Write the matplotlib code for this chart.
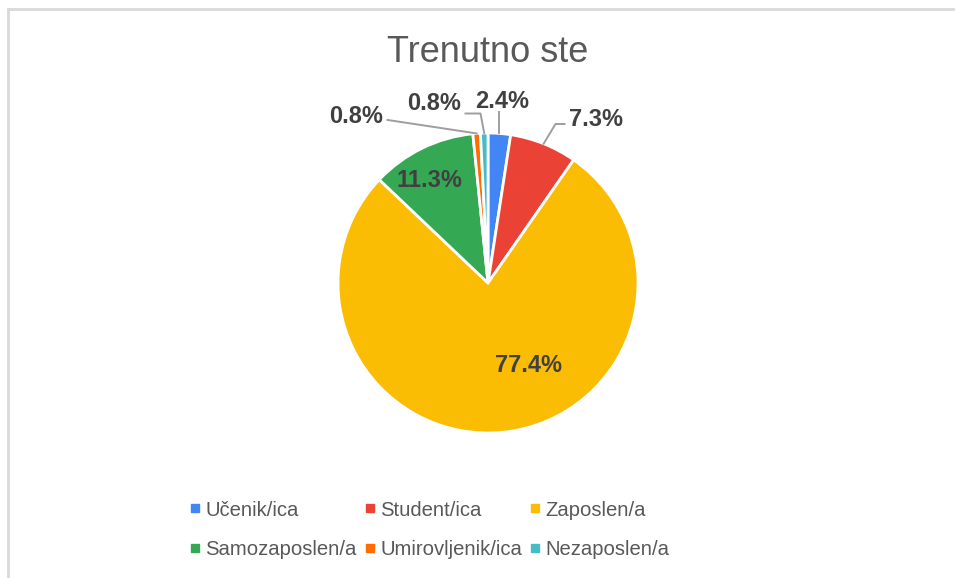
import numpy as np
import matplotlib.pyplot as plt
from matplotlib.lines import Line2D

categories = ['Učenik/ica', 'Student/ica', 'Zaposlen/a',
              'Samozaposlen/a', 'Umirovljenik/ica', 'Nezaposlen/a']
counts = [3, 9, 96, 14, 1, 1]
colors = ['#4285F4', '#EA4335', '#FBBC04', '#34A853', '#FF6D01', '#46BDC6']
title = 'Trenutno ste'

plt.rcParams['font.family'] = ['Liberation Sans', 'DejaVu Sans']

W, H = 955, 578
fig = plt.figure(figsize=(W / 100, H / 100), dpi=100)

# pie placed in pixel terms: centre (488, 283), radius 150
cx, cy, r = 488, 283, 150
ax = fig.add_axes([(cx - r) / W, (H - cy - r) / H, 2 * r / W, 2 * r / H])
wedges, _ = ax.pie(counts, colors=colors, startangle=90, counterclock=False,
                   radius=1, wedgeprops=dict(edgecolor='white', linewidth=2))
ax.set_xlim(-1, 1)
ax.set_ylim(-1, 1)
ax.set_aspect('equal')
ax.axis('off')

total = sum(counts)
pct = [c / total * 100 for c in counts]

# label placement: inside -> (x, y); outside -> elbow, text pos, ha
inside = {2: (0.27, -0.55), 3: (-0.39, 0.685)}
outside = {
    0: ((None, 1.14), (0.095, 1.21), 'center'),
    1: ((0.45, 1.06), (0.54, 1.09), 'left'),
    5: ((-0.05, 1.13), (-0.18, 1.20), 'right'),
    4: ((-0.67, 1.087), (-0.70, 1.11), 'right'),
}
txt_kw = dict(fontsize=17, fontweight='bold', color='#404040', va='center')

for i, w in enumerate(wedges):
    label = f'{pct[i]:.1f}%'
    if i in inside:
        x, y = inside[i]
        ax.text(x, y, label, ha='center', **txt_kw)
    else:
        ang = np.deg2rad((w.theta1 + w.theta2) / 2)
        ax0, ay0 = np.cos(ang), np.sin(ang)
        (ex, ey), (tx, ty), ha = outside[i]
        if ex is None:
            ex = ax0
        xs = [ax0, ex]
        ys = [ay0, ey]
        if ha == 'left':
            xs.append(tx - 0.03)
            ys.append(ey)
        elif ha == 'right':
            xs.append(tx + 0.03)
            ys.append(ey)
        ax.plot(xs, ys, color='#9e9e9e', lw=1.4, clip_on=False)
        ax.text(tx, ty, label, ha=ha, clip_on=False, **txt_kw)

fig.text(cx / W, 1 - 53 / H, title, ha='center', va='center',
         fontsize=26, color='#595959')

handles = [Line2D([], [], marker='s', linestyle='none', markersize=6,
                  markerfacecolor=c, markeredgecolor=c) for c in colors]
order = [0, 3, 1, 4, 2, 5]
leg = fig.legend([handles[i] for i in order], [categories[i] for i in order],
                 ncol=3, loc='center left',
                 bbox_to_anchor=(181 / W, 1 - 530 / H),
                 frameon=False, fontsize=14.6, handlelength=0.4,
                 handletextpad=0.3, columnspacing=0.45, labelspacing=1.03,
                 borderpad=0)
for t in leg.get_texts():
    t.set_color('#595959')

# chart border (only top and left edges visible)
fig.add_artist(Line2D([7.5 / W, 1], [1 - 8.5 / H, 1 - 8.5 / H],
                      transform=fig.transFigure, color='#d9d9d9', lw=2))
fig.add_artist(Line2D([7.5 / W, 7.5 / W], [0, 1 - 8.5 / H],
                      transform=fig.transFigure, color='#d9d9d9', lw=2))

fig.savefig('out.png', dpi=100, facecolor='white')
